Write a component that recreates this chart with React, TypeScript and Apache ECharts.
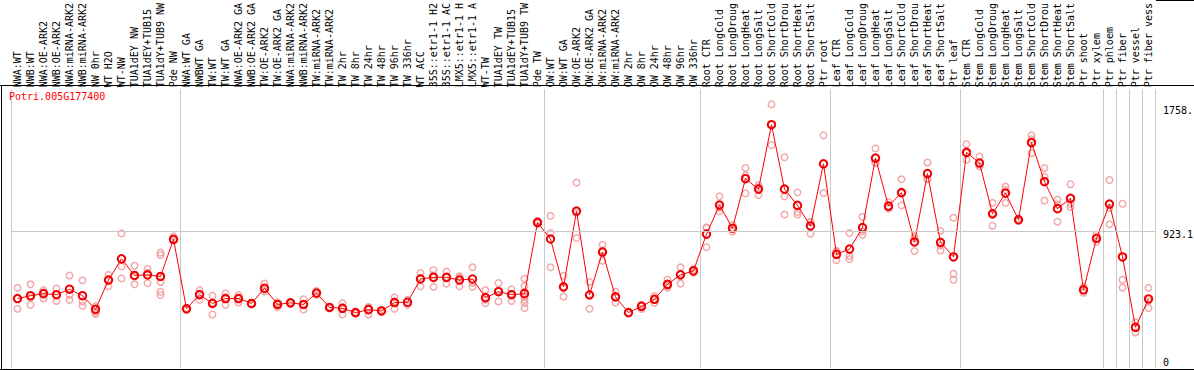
import React, { useEffect, useRef } from "react";
import * as echarts from "echarts";

const geneId = "Potri.005G177400";

const categories = [
  "NWA:WT", "NWB:WT", "NWA:OE-ARK2", "NWB:OE-ARK2", "NWA:miRNA-ARK2", "NWB:miRNA-ARK2", "NW 0hr", "WT H2O", "WT-NW", "TUA1dEY NW", "TUA1dEY+TUB15", "TUA1dY+TUB9 NW", "Pde NW",
  "NWA:WT GA", "NWBWT GA", "TW:WT", "TW:WT GA", "NWA:OE-ARK2 GA", "NWB:OE-ARK2 GA", "TW:OE-ARK2", "TW:OE-ARK2 GA", "NWA:miRNA-ARK2", "NWB:miRNA-ARK2", "TW:miRNA-ARK2", "TW:miRNA-ARK2", "TW 2hr", "TW 8hr", "TW 24hr", "TW 48hr", "TW 96hr", "TW 336hr", "WT ACC", "35S::etr1-1 H2", "35S::etr1-1 AC", "LMX5::etr1-1 H", "LMX5::etr1-1 A", "WT-TW", "TUA1dEY TW", "TUA1dEY+TUB15", "TUA1dY+TUB9 TW", "Pde TW",
  "OW:WT", "OW:WT GA", "OW:OE-ARK2", "OW:OE-ARK2 GA", "OW:miRNA-ARK2", "OW:miRNA-ARK2", "OW 2hr", "OW 8hr", "OW 24hr", "OW 48hr", "OW 96hr", "OW 336hr",
  "Root CTR", "Root LongCold", "Root LongDroug", "Root LongHeat", "Root LongSalt", "Root ShortCold", "Root ShortDrou", "Root ShortHeat", "Root ShortSalt", "Ptr root",
  "Leaf CTR", "Leaf LongCold", "Leaf LongDroug", "Leaf LongHeat", "Leaf LongSalt", "Leaf ShortCold", "Leaf ShortDrou", "Leaf ShortHeat", "Leaf ShortSalt", "Ptr leaf",
  "Stem CTR", "Stem LongCold", "Stem LongDroug", "Stem LongHeat", "Stem LongSalt", "Stem ShortCold", "Stem ShortDrou", "Stem ShortHeat", "Stem ShortSalt", "Ptr shoot", "Ptr xylem",
  "Ptr phloem", "Ptr fiber", "Ptr vessel", "Ptr fiber vess",
];

const means = [
  469, 488, 502, 495, 532, 488, 396, 594, 737, 625, 629, 618, 869,
  400, 495, 436, 469, 469, 436, 539, 429, 440, 429, 506, 409, 403, 374, 394, 385, 442, 444, 601, 612, 612, 594, 601, 475, 515, 495, 502, 983,
  871, 548, 1060, 493, 783, 480, 374, 416, 464, 565, 629, 656,
  904, 1100, 944, 1278, 1208, 1643, 1208, 1098, 959, 1379,
  768, 803, 948, 1417, 1093, 1184, 851, 1313, 849, 750,
  1456, 1384, 1041, 1181, 1001, 1522, 1258, 1076, 1146, 528, 876,
  1107, 750, 275, 466,
];

const replicates = [
  [541, 469, 400], [565, 475, 427], [526, 510, 469], [537, 495, 453], [625, 495, 460], [592, 449, 420], [416, 376, 365], [629, 552, 600], [909, 686, 605], [691, 565, 620], [669, 572, 645], [779, 763, 615, 581, 515, 493], [889, 860],
  [405, 395], [526, 460, 500], [488, 440, 361], [504, 427, 476], [493, 442, 470], [436, 430], [570, 530, 517], [442, 411, 434], [445, 435], [464, 394, 429], [521, 495], [414, 404], [438, 361, 410], [368, 380], [411, 361, 410], [378, 392], [477, 400, 449], [460, 427], [642, 552, 609], [662, 548, 626], [651, 570, 615], [620, 552, 610], [680, 548, 575], [526, 438, 461], [574, 449, 522], [532, 453, 500], [603, 552, 515, 482, 460, 438, 405], [992, 974],
  [1027, 911, 680], [623, 482, 540], [1252, 878, 1050], [581, 400, 498], [832, 724, 793], [515, 442, 483], [374], [427, 398, 423], [486, 440, 466], [596, 555, 544], [680, 570, 637], [669, 643],
  [948, 816, 948], [1159, 1058, 1083], [966, 922], [1351, 1300, 1179], [1220, 1168, 1236], [1780, 1505, 1644], [1423, 1159, 1036], [1186, 1054, 1036], [988, 906, 983], [1571, 1181],
  [790, 728, 786], [911, 757, 735], [1021, 900, 923], [1483, 1384, 1384], [1120, 1076, 1083], [1274, 1098, 1180], [889, 790, 874], [1388, 1274, 1277], [926, 794, 827], [1014, 636, 596],
  [1511, 1406, 1451], [1428, 1362, 1362], [1115, 961, 1047], [1225, 1115, 1203], [1010, 992], [1571, 1450, 1545], [1351, 1131, 1292], [1137, 988, 1103], [1241, 1087, 1110], [548, 508], [900, 852],
  [1269, 970, 1082], [1109, 596, 543], [310, 240], [541, 405, 452],
];

// indices of the first category of each group (grey separators drawn at their left edge)
const groupStarts = [0, 13, 41, 53, 63, 73, 84, 85, 86, 87];

const yMarks = [
  { value: 1758, text: "1758.", dy: 3 },
  { value: 923.1, text: "923.1", dy: 3 },
  { value: 0, text: "0", dy: -6 },
];

const yMax = 1882;
const mono = "'DejaVu Sans Mono', monospace";

export default function App() {
  const ref = useRef<HTMLDivElement>(null);
  useEffect(() => {
    document.body.style.margin = "0";
    const chart = echarts.init(ref.current as HTMLDivElement, null, { renderer: "svg" });
    const repData: number[][] = [];
    replicates.forEach((arr, i) => arr.forEach((v) => repData.push([i, v])));
    const sepFn = (i: number) => groupStarts.indexOf(i) >= 0;
    chart.setOption({
      animation: false,
      title: {
        text: geneId,
        left: 9,
        top: 91,
        padding: 0,
        textStyle: { color: "#ff0000", fontSize: 10, fontWeight: "normal", fontFamily: mono },
      },
      grid: { left: 11, right: 39, top: 85, bottom: 2 },
      xAxis: {
        type: "category",
        position: "top",
        data: categories,
        boundaryGap: true,
        axisLine: { show: false },
        axisTick: { show: true, interval: sepFn, length: 85, lineStyle: { color: "#c8c8c8", width: 1 } },
        splitLine: { show: true, interval: sepFn, lineStyle: { color: "#c8c8c8", width: 1 } },
        axisLabel: { interval: 0, rotate: 90, margin: 2, fontSize: 10, fontFamily: mono, color: "#000" },
      },
      yAxis: {
        type: "value",
        min: 0,
        max: yMax,
        axisLine: { show: false },
        axisTick: { show: false },
        axisLabel: { show: false },
        splitLine: { show: false },
      },
      graphic: [
        { type: "line", shape: { x1: 0, y1: 85.5, x2: 1194, y2: 85.5 }, style: { stroke: "#000", lineWidth: 1 }, z: 10 },
        { type: "line", shape: { x1: 1.5, y1: 85, x2: 1.5, y2: 370 }, style: { stroke: "#000", lineWidth: 1 }, z: 10 },
        { type: "line", shape: { x1: 0, y1: 369.5, x2: 1194, y2: 369.5 }, style: { stroke: "#000", lineWidth: 1 }, z: 10 },
        { type: "line", shape: { x1: 1156, y1: 0.5, x2: 1194, y2: 0.5 }, style: { stroke: "#000", lineWidth: 1 }, z: 10 },
      ],
      series: [
        {
          type: "scatter",
          data: repData,
          z: 1,
          symbol: "circle",
          symbolSize: 6.5,
          itemStyle: { color: "rgba(0,0,0,0)", borderColor: "#f09595", borderWidth: 1.5 },
          markLine: {
            silent: true,
            symbol: ["none", "none"],
            data: yMarks.map((m) => ({
              yAxis: m.value,
              lineStyle: { color: m.value === 923.1 ? "#c8c8c8" : "rgba(0,0,0,0)", width: 1, type: "solid" },
              label: { formatter: m.text, offset: [0, m.dy] },
            })),
            label: { position: "end", distance: 8, fontSize: 10, fontFamily: mono, color: "#000" },
          },
        },
        {
          type: "line",
          data: means,
          z: 3,
          symbol: "circle",
          symbolSize: 7.5,
          showAllSymbol: true,
          lineStyle: { color: "#ff0000", width: 1 },
          itemStyle: { color: "rgba(0,0,0,0)", borderColor: "#ee0000", borderWidth: 2 },
        },
      ],
    });
    return () => chart.dispose();
  }, []);
  return <div ref={ref} style={{ position: "absolute", left: 0, top: 0, width: 1194, height: 370 }} />;
}
